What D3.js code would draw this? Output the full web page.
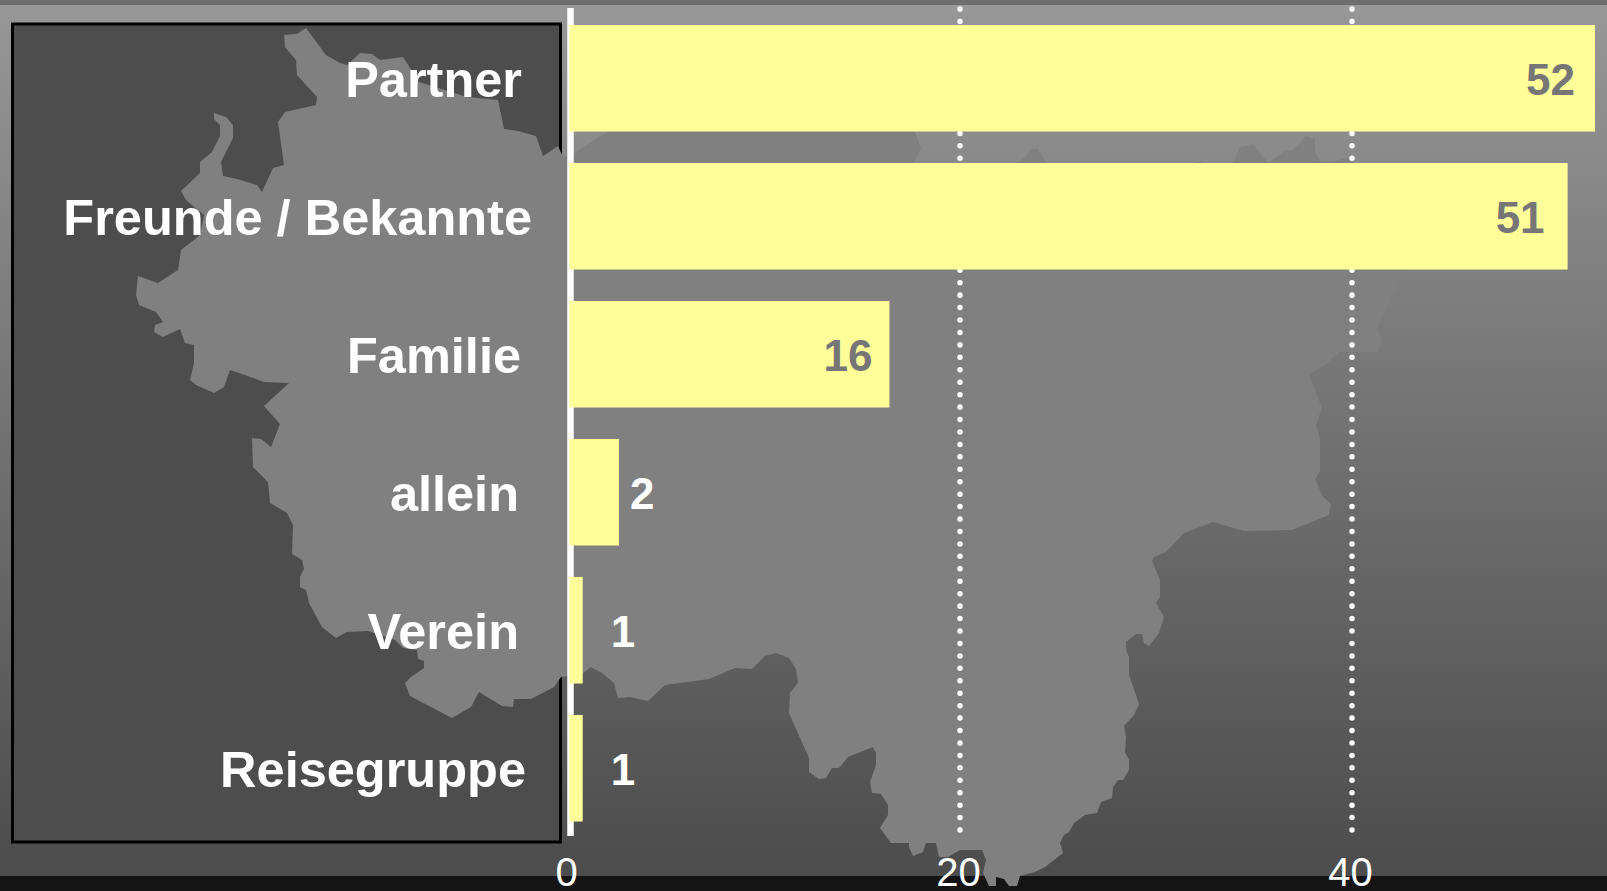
<!DOCTYPE html>
<html>
<head>
<meta charset="utf-8">
<script src="https://d3js.org/d3.v7.min.js"></script>
<style>
  html, body { margin: 0; padding: 0; background: #141414; overflow: hidden; }
  svg { display: block; }
  text { font-family: "Liberation Sans", Arial, sans-serif; }
</style>
</head>
<body>
<div id="chart"></div>
<script>
// values, labels are the rounded numbers it prints
let categories = ["Partner", "Freunde / Bekannte", "Familie", "allein", "Verein", "Reisegruppe"];
let values = [52.4, 51, 16.4, 2.6, 0.75, 0.75];
let valueLabels = ["52", "51", "16", "2", "1", "1"];
let ticks = [0, 20, 40];

// background silhouette of the region, outline traced by hand
let mapOutline = [
  [284,35],[285,47],[296,60],[297,75],[317,97],[316,105],[285,112],[278,122],[284,165],[273,168],
  [262,192],[257,185],[237,179],[223,176],[221,162],[233,138],[233,125],[226,117],[214,113],[214,119],
  [220,125],[220,136],[212,152],[200,162],[200,173],[181,191],[186,200],[204,215],[200,235],[194,240],
  [181,250],[178,270],[158,283],[138,276],[136,295],[139,305],[156,312],[163,322],[155,325],[154,332],
  [163,337],[180,329],[185,343],[194,345],[194,363],[190,380],[196,385],[214,393],[224,387],[230,370],
  [245,375],[264,382],[289,383],[264,406],[280,424],[271,447],[261,439],[252,438],[253,467],[268,482],
  [270,503],[287,513],[293,525],[292,554],[302,560],[304,569],[300,577],[300,587],[306,590],[309,603],
  [322,627],[336,638],[347,632],[368,631],[395,640],[403,648],[417,650],[418,659],[424,661],[424,668],
  [411,677],[405,683],[410,696],[452,718],[471,707],[479,692],[502,706],[513,707],[514,699],[531,699],
  [554,687],[561,677],[583,673],[591,667],[602,673],[614,683],[618,698],[630,697],[648,701],[665,685],
  [709,679],[735,668],[752,669],[765,656],[776,653],[789,658],[796,669],[798,683],[790,693],[789,713],
  [809,758],[809,772],[819,779],[826,778],[832,768],[839,768],[848,757],[873,747],[876,753],[876,765],
  [870,782],[872,793],[881,794],[888,805],[888,815],[880,828],[891,843],[909,843],[909,847],[913,856],
  [923,852],[926,843],[936,843],[939,857],[948,857],[960,850],[982,850],[986,860],[983,873],[989,886],
  [996,886],[996,877],[1004,879],[1009,886],[1017,886],[1020,876],[1035,872],[1045,867],[1063,853],[1060,843],
  [1064,835],[1069,832],[1074,823],[1085,815],[1097,813],[1101,802],[1112,798],[1113,787],[1118,780],[1123,780],
  [1129,770],[1129,760],[1125,752],[1126,738],[1124,726],[1134,715],[1139,704],[1129,675],[1129,657],[1126,650],
  [1126,642],[1136,634],[1142,634],[1144,643],[1149,646],[1159,633],[1164,617],[1156,603],[1160,597],[1160,580],
  [1152,561],[1154,557],[1166,552],[1184,533],[1213,522],[1244,531],[1292,530],[1329,515],[1331,504],[1323,497],
  [1315,479],[1320,471],[1320,439],[1316,425],[1322,408],[1309,374],[1325,365],[1339,352],[1378,352],[1382,340],
  [1377,329],[1403,275],[1404,265],[1400,200],[1348,158],[1330,162],[1320,161],[1315,153],[1315,139],[1306,136],
  [1293,150],[1283,152],[1268,163],[1254,145],[1240,147],[1232,164],[1232,170],[1202,170],[1202,161],[1190,165],
  [1190,170],[1045,170],[1045,161],[1038,149],[1031,149],[1028,154],[1017,164],[1017,170],[913,170],[913,164],
  [921,148],[915,132],[915,120],[700,120],[607,132],[573,154],[563,157],[558,146],[543,156],[536,136],
  [518,131],[504,129],[498,100],[467,97],[435,87],[419,82],[403,57],[380,60],[372,54],[360,53],
  [347,65],[340,63],[326,55],[306,28],[297,34]
];

// the category labels do not share a right edge in the original
let labelRight = [522, 532, 521, 519, 519, 526];
let valueOffset = [-20, -23, -17, 11, 28, 28];

let width = 1607;
let height = 891;

let svg = d3.select("#chart").append("svg")
  .attr("width", width)
  .attr("height", height);

let gradient = svg.append("defs").append("linearGradient")
  .attr("id", "bg")
  .attr("x1", 0).attr("x2", 0)
  .attr("y1", 0).attr("y2", 1);
gradient.append("stop").attr("offset", "0%").attr("stop-color", "#979797");
gradient.append("stop").attr("offset", "100%").attr("stop-color", "#4c4c4c");

let x = d3.scaleLinear()
  .domain([0, 40])
  .range([568, 1352]);

let y = d3.scaleBand()
  .domain(categories)
  .range([25, 821.5])
  .paddingInner(0.228);

// page frame
svg.append("rect").attr("width", width).attr("height", 5).attr("fill", "#6e6e6e");
svg.append("rect").attr("y", 5).attr("width", width).attr("height", 871).attr("fill", "url(#bg)");
svg.append("rect").attr("y", 876).attr("width", width).attr("height", 15).attr("fill", "#141414");

// dark label box
svg.append("rect")
  .attr("x", 12.5).attr("y", 24)
  .attr("width", 548).attr("height", 818)
  .attr("fill", "#4d4d4d")
  .attr("stroke", "#000")
  .attr("stroke-width", 3);

svg.append("path")
  .attr("d", d3.line()(mapOutline) + "Z")
  .attr("fill", "#808080");

// dotted grid, no line at zero
svg.selectAll(".grid")
  .data(ticks.filter(function(d) { return d > 0; }))
  .enter().append("line")
    .classed("grid", true)
    .attr("x1", function(d) { return x(d); })
    .attr("x2", function(d) { return x(d); })
    .attr("y1", 9)
    .attr("y2", 831)
    .attr("stroke", "#fff")
    .attr("stroke-width", 5.5)
    .attr("stroke-linecap", "round")
    .attr("stroke-dasharray", "0.01 12.43");

// zero line
svg.append("line")
  .attr("x1", x(0) + 2.5).attr("x2", x(0) + 2.5)
  .attr("y1", 8).attr("y2", 836)
  .attr("stroke", "#fff")
  .attr("stroke-width", 6.5);

svg.selectAll(".bar")
  .data(values)
  .enter().append("rect")
    .classed("bar", true)
    .attr("x", x(0) + 1.5)
    .attr("y", function(d, i) { return y(categories[i]); })
    .attr("width", function(d) { return x(d) - x(0) - 1.5; })
    .attr("height", y.bandwidth())
    .attr("fill", "#ffff99");

svg.selectAll(".category")
  .data(categories)
  .enter().append("text")
    .classed("category", true)
    .attr("x", function(d, i) { return labelRight[i]; })
    .attr("y", function(d) { return y(d) + y.bandwidth() / 2 + 18.5; })
    .attr("text-anchor", "end")
    .attr("font-size", 50.5)
    .attr("font-weight", "bold")
    .attr("fill", "#fff")
    .text(function(d) { return d; });

svg.selectAll(".value")
  .data(valueLabels)
  .enter().append("text")
    .classed("value", true)
    .attr("x", function(d, i) { return x(values[i]) + valueOffset[i]; })
    .attr("y", function(d, i) { return y(categories[i]) + y.bandwidth() / 2 + 17; })
    .attr("text-anchor", function(d, i) { return valueOffset[i] < 0 ? "end" : "start"; })
    .attr("font-size", 44)
    .attr("font-weight", "bold")
    .attr("fill", function(d, i) { return valueOffset[i] < 0 ? "#767676" : "#fff"; })
    .text(function(d) { return d; });

let axis = d3.axisBottom(x)
  .tickValues(ticks)
  .tickSize(0)
  .tickPadding(0);

svg.append("g")
  .attr("transform", "translate(-2, 858)")
  .call(axis)
  .call(function(g) { g.select(".domain").remove(); })
  .selectAll("text")
    .attr("font-size", 40)
    .attr("font-family", "Liberation Sans")
    .attr("fill", "#fff");
</script>
</body>
</html>
